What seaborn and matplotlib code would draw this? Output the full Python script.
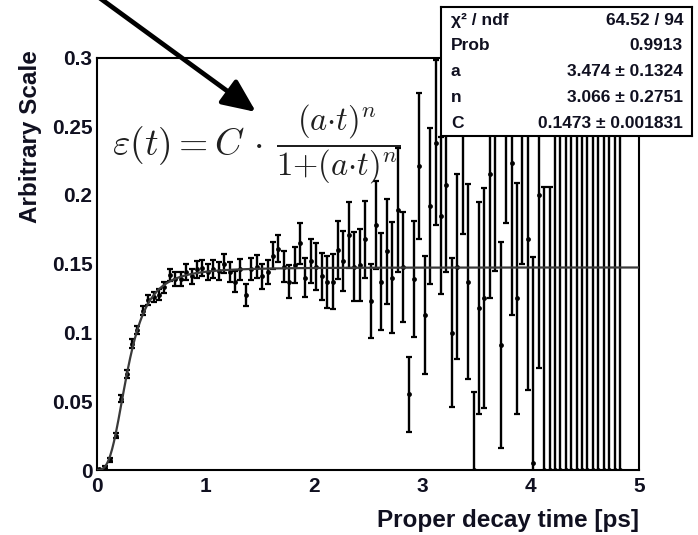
import numpy as np
import pandas as pd
import matplotlib
matplotlib.use("Agg")
import matplotlib.pyplot as plt
from matplotlib import font_manager
from matplotlib.patches import FancyArrowPatch
from matplotlib.ticker import MultipleLocator, FuncFormatter
import seaborn as sns

# Histogram of the decay-time acceptance: 0.05 ps bins from 0 to 4.85 ps
bin_centers = np.round(np.arange(0.025, 4.85, 0.05), 3)

acceptance = [
    0.0005, 0.002, 0.007, 0.025, 0.052, 0.070, 0.092, 0.102, 0.116, 0.1236,
    0.126, 0.1275, 0.133, 0.142, 0.139, 0.139, 0.144, 0.141, 0.146, 0.147,
    0.144, 0.146, 0.145, 0.150, 0.144, 0.137, 0.146, 0.127, 0.146, 0.148,
    0.141, 0.144, 0.156, 0.161, 0.148, 0.137, 0.149, 0.165, 0.140, 0.152,
    0.148, 0.141, 0.137, 0.137, 0.160, 0.152, 0.171, 0.148, 0.149, 0.168,
    0.123, 0.178, 0.137, 0.159, 0.140, 0.189, 0.148, 0.055, 0.139, 0.221,
    0.113, 0.192, 0.238, 0.185, 0.207, 0.100, 0.148, 0.248, 0.137, 0.000,
    0.118, 0.125, 0.215, 0.250, 0.091, 0.265, 0.223, 0.125, 0.260, 0.168,
    0.005, 0.200, 0.000, 0.000, 0.000, 0.000, 0.000, 0.000, 0.000, 0.000,
    0.000, 0.000, 0.000, 0.000, 0.000, 0.000, 0.000,
]

acceptance_err = [
    0.0005, 0.001, 0.0015, 0.002, 0.0025, 0.003, 0.003, 0.003, 0.003, 0.0035,
    0.0035, 0.004, 0.004, 0.0045, 0.005, 0.005, 0.0055, 0.0055, 0.006, 0.006,
    0.006, 0.0065, 0.0065, 0.007, 0.007, 0.0075, 0.0075, 0.008, 0.008, 0.0085,
    0.009, 0.009, 0.0095, 0.010, 0.011, 0.012, 0.013, 0.015, 0.014, 0.016,
    0.017, 0.017, 0.019, 0.020, 0.021, 0.022, 0.024, 0.025, 0.026, 0.028,
    0.027, 0.032, 0.035, 0.038, 0.040, 0.045, 0.040, 0.027, 0.042, 0.053,
    0.043, 0.057, 0.060, 0.057, 0.063, 0.054, 0.067, 0.076, 0.071, 0.057,
    0.077, 0.080, 0.090, 0.105, 0.075, 0.085, 0.110, 0.084, 0.110, 0.110,
    0.150, 0.126, 0.206, 0.206, 0.350, 0.350, 0.350, 0.350, 0.350, 0.350,
    0.350, 0.350, 0.350, 0.350, 0.350, 0.350, 0.350,
]

# Fit result: eps(t) = C (a t)^n / (1 + (a t)^n)
fit_a = 3.474
fit_n = 3.066
fit_C = 0.1473

stats_labels = ["\u03c7\u00b2 / ndf", "Prob", "a", "n", "C"]
stats_values = ["64.52 / 94", "0.9913", "3.474 \u00b1 0.1324",
                "3.066 \u00b1 0.2751", "0.1473 \u00b1 0.001831"]

x_ticks = [0, 1, 2, 3, 4, 5]
y_ticks = [0, 0.05, 0.1, 0.15, 0.2, 0.25, 0.3]

# ---------------------------------------------------------------------------
sns.set_theme(style="white")
installed = {f.name for f in font_manager.fontManager.ttflist}
narrow = "Liberation Sans Narrow" if "Liberation Sans Narrow" in installed else "Liberation Sans"
plt.rcParams["font.family"] = ["Liberation Sans", "DejaVu Sans"]
plt.rcParams["mathtext.fontset"] = "cm"

W, H = 698, 535
fig = plt.figure(figsize=(W / 100, H / 100), dpi=100)
fig.patch.set_facecolor("white")

def px_box(left, top, right, bottom):
    return [left / W, 1 - bottom / H, (right - left) / W, (bottom - top) / H]

ax = fig.add_axes(px_box(96.7, 57.5, 639, 470))
ax.set_facecolor("white")

df = pd.DataFrame({"t": bin_centers, "eps": acceptance, "err": acceptance_err})

ax.errorbar(df["t"], df["eps"], yerr=df["err"], fmt="none", ecolor="black",
            elinewidth=1.7, capsize=2.4, capthick=1.6, zorder=2)
sns.scatterplot(data=df, x="t", y="eps", ax=ax, color="black", s=12,
                marker="o", linewidth=0, zorder=3, legend=False)

t_fine = np.linspace(0.0, 5.0, 600)
at = (fit_a * t_fine) ** fit_n
fit_df = pd.DataFrame({"t": t_fine, "f": fit_C * at / (1 + at)})
sns.lineplot(data=fit_df, x="t", y="f", ax=ax, color="#3a3a3a", lw=1.6,
             zorder=4, sort=False)

ax.set_xlim(0, 5)
ax.set_ylim(0, 0.3)
ax.set_xticks(x_ticks)
ax.set_yticks(y_ticks)
ax.xaxis.set_minor_locator(MultipleLocator(0.2))
ax.yaxis.set_minor_locator(MultipleLocator(0.01))
fmt = FuncFormatter(lambda v, p: f"{v:g}")
ax.xaxis.set_major_formatter(fmt)
ax.yaxis.set_major_formatter(fmt)
ax.tick_params(axis="both", which="both", direction="in", color="black",
               top=False, right=False)
ax.tick_params(axis="x", which="major", length=9.5, width=1.4, pad=5)
ax.tick_params(axis="x", which="minor", length=4.8, width=1.2)
ax.tick_params(axis="y", which="major", length=12.5, width=1.4, pad=3)
ax.tick_params(axis="y", which="minor", length=6.3, width=1.2)
for lab in ax.get_xticklabels() + ax.get_yticklabels():
    lab.set_fontfamily(narrow)
    lab.set_fontweight("bold")
    lab.set_fontsize(15)
    lab.set_color("#101020")
for sp in ax.spines.values():
    sp.set_color("black")
    sp.set_linewidth(1.5)
    sp.set_visible(True)

ax.set_xlabel("Proper decay time [ps]", fontsize=17.5, fontweight="bold",
              color="#101020", loc="right")
ax.xaxis.set_label_coords(1.0, -0.095)
ax.set_ylabel("Arbitrary Scale", fontsize=17.5, fontweight="bold",
              color="#101020", loc="top")
ax.yaxis.set_label_coords(-0.100, 1.018)

# Acceptance function written on the plot
fig.text(112 / W, 1 - 146 / H, r"$\varepsilon(t) = C\,\cdot$", fontsize=27,
         va="center", ha="left", color="#202020")
fig.text(276 / W, 1 - 144 / H,
         r"$\dfrac{(a{\cdot}t)^n}{1{+}(a{\cdot}t)^n}$", fontsize=23.5,
         va="center", ha="left", color="#202020")

# Pointer arrow towards the formula
fig.add_artist(FancyArrowPatch(
    posA=(97 / W, 1 + 4 / H), posB=(256 / W, 1 - 112 / H),
    transform=fig.transFigure, arrowstyle="-|>,head_length=0.45,head_width=0.2",
    mutation_scale=45, lw=3.4, color="black", shrinkA=0, shrinkB=0))

# Fit statistics box
sb = fig.add_axes(px_box(441, 7, 692, 136))
sb.set_zorder(10)
sb.set_facecolor("white")
sb.set_xticks([])
sb.set_yticks([])
sb.set_xlim(441, 692)
sb.set_ylim(136, 7)
for sp in sb.spines.values():
    sp.set_color("black")
    sp.set_linewidth(1.5)
    sp.set_visible(True)
row_y = [20.7, 45.7, 71.7, 97.3, 123.3]
for y, lab, val in zip(row_y, stats_labels, stats_values):
    sb.text(451, y, lab, ha="left", va="center", fontsize=12.5,
            fontweight="bold", family=[narrow, "DejaVu Sans"], color="#101020")
    sb.text(683, y, val, ha="right", va="center", fontsize=12.5,
            fontweight="bold", family=[narrow, "DejaVu Sans"], color="#101020")

fig.savefig("out.png", dpi=100, facecolor="white")
